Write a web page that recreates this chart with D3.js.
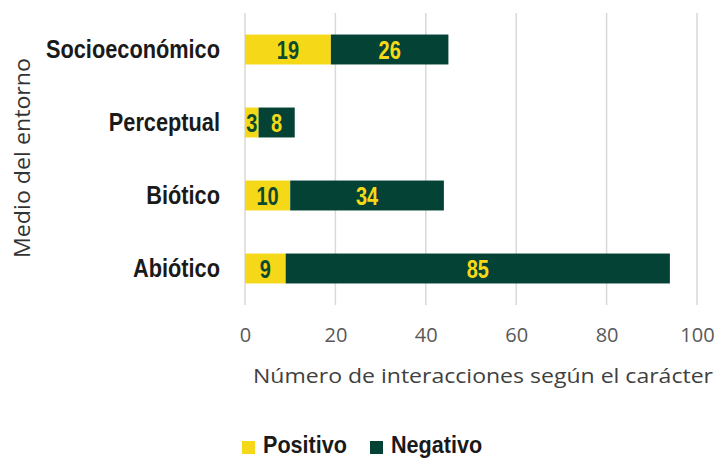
<!DOCTYPE html>
<html>
<head>
<meta charset="utf-8">
<script src="https://cdn.jsdelivr.net/npm/d3@7"></script>
<style>
  body { margin: 0; background: #fff; }
  #chart { width: 716px; height: 460px; }
</style>
</head>
<body>
<div id="chart"></div>
<script>
const CATEGORIES = ['Socioeconómico', 'Perceptual', 'Biótico', 'Abiótico'];
const POSITIVO = [19, 3, 10, 9];
const NEGATIVO = [26, 8, 34, 85];
const X_TICKS = [0, 20, 40, 60, 80, 100];
const SERIES = ['Positivo', 'Negativo'];

const COLORS = {Positivo: '#f5d918', Negativo: '#044235'};
const LABEL_COLORS = {Positivo: '#0d4a2e', Negativo: '#f5d918'};

const BOLD = '"Liberation Sans", Arial, sans-serif';
const PLAIN = '"Open Sans", sans-serif';

// squeeze bold text so it reads like Arial Narrow
function narrow(sel, k) {
    sel.each(function () {
        this.setAttribute('textLength', this.getComputedTextLength() * k);
        this.setAttribute('lengthAdjust', 'spacingAndGlyphs');
    });
}

// Setup SVG
let margin = {top: 13, right: 19, bottom: 155, left: 245};
let width = 716 - margin.left - margin.right;
let height = 460 - margin.top - margin.bottom;

let root = d3.select('#chart')
    .append('svg')
    .attr('width', 716)
    .attr('height', 460);
let svg = root.append('g')
    .attr('transform', 'translate(' + margin.left + ',' + margin.top + ')');

// Scales
let x = d3.scaleLinear().domain([0, 100]).range([0, width]);
let y = d3.scaleBand().domain(CATEGORIES).range([0, height]).paddingInner(0.59).paddingOuter(0.295);

// Gridlines
svg.append('g')
    .selectAll('line')
    .data(X_TICKS)
    .join('line')
    .attr('x1', d => x(d))
    .attr('x2', d => x(d))
    .attr('y1', 0)
    .attr('y2', height)
    .attr('stroke', '#d9d9d9')
    .attr('stroke-width', 1.5);

// X axis labels
let xAxis = svg.append('g')
    .attr('transform', 'translate(0,' + height + ')')
    .call(d3.axisBottom(x).tickValues(X_TICKS).tickSize(0).tickPadding(23));
xAxis.select('.domain').remove();
xAxis.selectAll('text')
    .attr('font-family', PLAIN)
    .attr('font-size', 20)
    .attr('fill', '#595959');

// Y axis labels
let yAxis = svg.append('g')
    .call(d3.axisLeft(y).tickSize(0).tickPadding(25));
yAxis.select('.domain').remove();
yAxis.selectAll('text')
    .attr('font-family', BOLD)
    .attr('font-weight', 'bold')
    .attr('font-size', 25)
    .attr('fill', '#1a1a1a')
    .call(narrow, 0.87);

// Stacked bars
let rows = CATEGORIES.map(function (c, i) {
    return {cat: c, Positivo: POSITIVO[i], Negativo: NEGATIVO[i]};
});
let stacked = d3.stack().keys(SERIES)(rows);

stacked.forEach(function (layer) {
    let key = layer.key;
    let g = svg.append('g');
    g.selectAll('rect')
        .data(layer)
        .join('rect')
        .attr('x', d => x(d[0]))
        .attr('y', d => y(d.data.cat))
        .attr('width', d => x(d[1]) - x(d[0]))
        .attr('height', y.bandwidth())
        .attr('fill', COLORS[key]);
    g.selectAll('text')
        .data(layer)
        .join('text')
        .attr('x', d => (x(d[0]) + x(d[1])) / 2)
        .attr('y', d => y(d.data.cat) + y.bandwidth() / 2)
        .attr('dy', '0.36em')
        .attr('text-anchor', 'middle')
        .attr('font-family', BOLD)
        .attr('font-weight', 'bold')
        .attr('font-size', 25)
        .attr('fill', LABEL_COLORS[key])
        .text(d => d.data[key])
        .call(narrow, 0.8);
});

// Axis titles
root.append('text')
    .attr('x', 483)
    .attr('y', 383)
    .attr('text-anchor', 'middle')
    .attr('font-family', PLAIN)
    .attr('font-size', 20)
    .attr('fill', '#404040')
    .attr('textLength', 460)
    .attr('lengthAdjust', 'spacingAndGlyphs')
    .text('Número de interacciones según el carácter');

root.append('text')
    .attr('transform', 'translate(30,158) rotate(-90)')
    .attr('text-anchor', 'middle')
    .attr('font-family', PLAIN)
    .attr('font-size', 21)
    .attr('fill', '#333333')
    .attr('textLength', 200)
    .attr('lengthAdjust', 'spacingAndGlyphs')
    .text('Medio del entorno');

// Legend
let legend = root.append('g').attr('transform', 'translate(242,441)');
let legendX = [0, 128];
SERIES.forEach(function (key, i) {
    let item = legend.append('g').attr('transform', 'translate(' + legendX[i] + ',0)');
    item.append('rect')
        .attr('width', 13)
        .attr('height', 13)
        .attr('fill', COLORS[key]);
    item.append('text')
        .attr('x', 21)
        .attr('y', 12)
        .attr('font-family', BOLD)
        .attr('font-weight', 'bold')
        .attr('font-size', 24)
        .attr('fill', '#1a1a1a')
        .text(key)
        .call(narrow, 0.9);
});
</script>
</body>
</html>
